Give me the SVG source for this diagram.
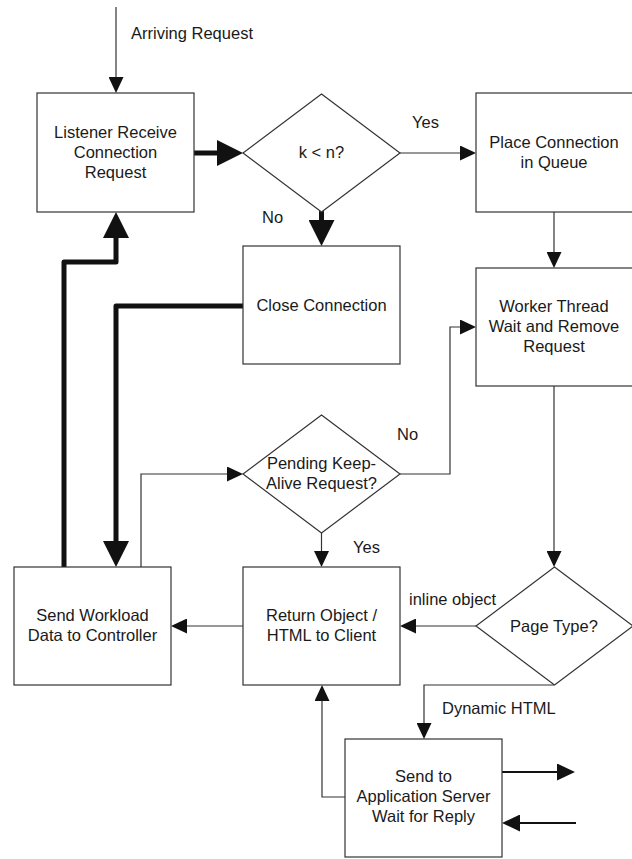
<svg xmlns="http://www.w3.org/2000/svg" width="632" height="859" viewBox="0 0 632 859">
  <style>
    .box { fill: #fff; stroke: #333; stroke-width: 1.2; }
    .txt { font-family: "Liberation Sans", Arial, sans-serif; font-size: 16.5px; fill: #1a1a1a; text-anchor: middle; }
    .lbl { font-family: "Liberation Sans", Arial, sans-serif; font-size: 16.5px; fill: #1a1a1a; }
    .thin { fill: none; stroke: #333; stroke-width: 1.2; marker-end: url(#ahThin); }
    .thick { fill: none; stroke: #111; stroke-width: 5; stroke-linejoin: round; stroke-linecap: round; marker-end: url(#ahThick); }
    .mid { fill: none; stroke: #111; stroke-width: 2.2; marker-end: url(#ahMid); }
  </style>
  <defs>
    <marker id="ahThin" markerUnits="userSpaceOnUse" markerWidth="16" markerHeight="15" refX="0" refY="7.5" orient="auto">
      <path d="M0,0 L16,7.5 L0,15 z" fill="#111"/>
    </marker>
    <marker id="ahThick" markerUnits="userSpaceOnUse" markerWidth="26" markerHeight="26" refX="0" refY="13" orient="auto">
      <path d="M0,0 L26,13 L0,26 z" fill="#111"/>
    </marker>
    <marker id="ahMid" markerUnits="userSpaceOnUse" markerWidth="18" markerHeight="17" refX="0" refY="8.5" orient="auto">
      <path d="M0,0 L18,8.5 L0,17 z" fill="#111"/>
    </marker>
  </defs>

  <!-- connectors -->
  <g id="connectors">
    <path class="thin" d="M116,7 V77"/>
    <path class="thin" d="M400,153 H460"/>
    <path class="thin" d="M554,212 V252"/>
    <path class="thin" d="M400,474 H450 V327 H460"/>
    <path class="thin" d="M554,386 V551"/>
    <path class="thin" d="M321.5,533 V551"/>
    <path class="thin" d="M476,626 H416"/>
    <path class="thin" d="M243,626 H187"/>
    <path class="thin" d="M141,567 V474 H227"/>
    <path class="thin" d="M554,685 H424 V723"/>
    <path class="thin" d="M345,797 H322 V701"/>
    <path class="thick" d="M194,153 H217"/>
    <path class="thick" d="M321.5,212 V220"/>
    <path class="thick" d="M64,567 V262 H116 V238"/>
    <path class="thick" d="M243,306 H116 V541"/>
    <path class="mid" d="M502,772 H557"/>
    <path class="mid" d="M576,823 H520"/>
    <text class="lbl" x="131" y="39">Arriving Request</text>
    <text class="lbl" x="412" y="128">Yes</text>
    <text class="lbl" x="262" y="223">No</text>
    <text class="lbl" x="397" y="440">No</text>
    <text class="lbl" x="353" y="553">Yes</text>
    <text class="lbl" x="409" y="605">inline object</text>
    <text class="lbl" x="442" y="714">Dynamic HTML</text>
  </g>

  <g id="listener">
    <rect class="box" x="37" y="93" width="157" height="119"/>
    <text class="txt" x="115.5" y="138">Listener Receive</text>
    <text class="txt" x="115.5" y="158">Connection</text>
    <text class="txt" x="115.5" y="178">Request</text>
  </g>

  <g id="check-limit">
    <polygon class="box" points="321.5,94 400,153 321.5,212 243,153"/>
    <text class="txt" x="321.5" y="158">k &lt; n?</text>
  </g>

  <g id="queue">
    <rect class="box" x="476" y="93" width="157" height="119"/>
    <text class="txt" x="554" y="148">Place Connection</text>
    <text class="txt" x="554" y="168">in Queue</text>
  </g>

  <g id="close">
    <rect class="box" x="243" y="246" width="157" height="118"/>
    <text class="txt" x="321.5" y="311">Close Connection</text>
  </g>

  <g id="worker">
    <rect class="box" x="476" y="268" width="157" height="118"/>
    <text class="txt" x="554" y="312">Worker Thread</text>
    <text class="txt" x="554" y="332">Wait and Remove</text>
    <text class="txt" x="554" y="352">Request</text>
  </g>

  <g id="keep-alive">
    <polygon class="box" points="321.5,415 400,474 321.5,533 243,474"/>
    <text class="txt" x="321.5" y="469">Pending Keep-</text>
    <text class="txt" x="321.5" y="489">Alive Request?</text>
  </g>

  <g id="send-workload">
    <rect class="box" x="14" y="567" width="157" height="118"/>
    <text class="txt" x="92.5" y="621">Send Workload</text>
    <text class="txt" x="92.5" y="641">Data to Controller</text>
  </g>

  <g id="return">
    <rect class="box" x="243" y="567" width="157" height="118"/>
    <text class="txt" x="321.5" y="621">Return Object /</text>
    <text class="txt" x="321.5" y="641">HTML to Client</text>
  </g>

  <g id="page-type">
    <polygon class="box" points="554.5,567 633,626 554.5,685 476,626"/>
    <text class="txt" x="554" y="632">Page Type?</text>
  </g>

  <g id="app-server">
    <rect class="box" x="345" y="739" width="157" height="118"/>
    <text class="txt" x="423.5" y="782">Send to</text>
    <text class="txt" x="423.5" y="802">Application Server</text>
    <text class="txt" x="423.5" y="822">Wait for Reply</text>
  </g>
</svg>
